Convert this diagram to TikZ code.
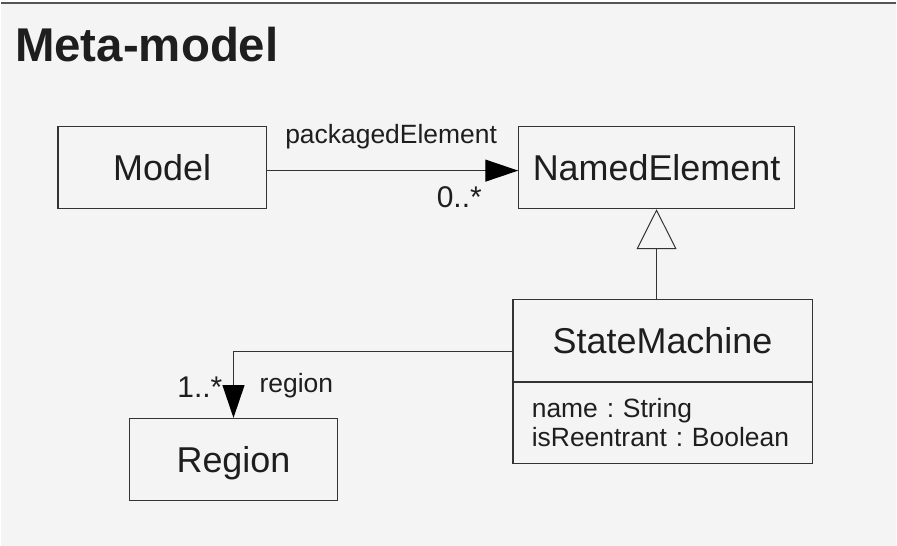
\documentclass[tikz,border=0pt]{standalone}
\usepackage{fontspec}
\setmainfont{Liberation Sans}
\usepackage{tikz}
\usetikzlibrary{arrows.meta}
\usetikzlibrary{positioning}
\definecolor{bgGray}{HTML}{F4F4F4}
\definecolor{frameGray}{HTML}{555555}
\definecolor{umlLine}{HTML}{333333}
\definecolor{umlText}{HTML}{1E1E1E}
\frenchspacing
\tikzstyle{classbox} = [rectangle, draw=umlLine, line width=1.3pt, text=umlText,
    font=\fontsize{36}{43}\selectfont, text height=26pt, text depth=0pt, minimum height=82pt]
\tikzstyle{attrbox} = [rectangle, draw=umlLine, line width=1.3pt, text=umlText,
    font=\fontsize{26.5}{29}\selectfont, align=left, text width=262pt, inner xsep=19pt,
    minimum width=300pt, minimum height=81pt]
\tikzstyle{lbl} = [inner sep=0pt, text=umlText, font=\fontsize{26.5}{29}\selectfont]
\tikzstyle{mult} = [inner sep=0pt, text=umlText, font=\fontsize{30}{36}\selectfont]
\tikzstyle{assoc} = [draw=umlLine, line width=1.3pt, -{Triangle[length=33pt,width=22pt,color=black]}]
\tikzstyle{gen} = [draw=umlLine, line width=1.3pt, -{Triangle[open,length=40pt,width=40pt,line width=1pt]}]

\begin{document}
\begin{tikzpicture}[x=1pt,y=-1pt]
	% background and frame
	\fill [white] (0,0) rectangle (897,547);
	\fill [bgGray] (0,3) rectangle (897,547);
	\draw [frameGray, line width=2pt] (0,3) -- (897,3);
	\node [anchor=base west, inner sep=0pt, text=umlText, font=\fontsize{47.5}{56}\selectfont\bfseries] at (14,62) (title) {Meta-model};
	% classes
	\node [classbox, minimum width=209pt] at (161.5,168) (Model) {Model};
	\node [classbox, minimum width=276pt] at (657,168) (NamedElement) {NamedElement};
	\node [classbox, minimum width=300pt] at (663,341) (StateMachine) {StateMachine};
	\node [attrbox, below=0pt of StateMachine] (smAttrs) {name : String\\isReentrant : Boolean};
	\node [classbox, minimum width=208pt] at (233,460.5) (Region) {Region};
	% relations
	\path [assoc] ([yshift=-3pt]Model.east) -- ([yshift=-3pt]NamedElement.west);
	\node [lbl, anchor=base] at (391,144) (pkgLabel) {packagedElement};
	\node [mult, anchor=base east] at (482,208) (pkgMult) {0..*};
	\path [gen] (NamedElement.south |- StateMachine.north) -- (NamedElement.south);
	\path [assoc] ([yshift=-11pt]StateMachine.west) -| (Region.north);
	\node [mult, anchor=base east] at (222,398) (regionMult) {1..*};
	\node [lbl, anchor=base west] at (259,393) (regionLabel) {region};
\end{tikzpicture}
\end{document}
